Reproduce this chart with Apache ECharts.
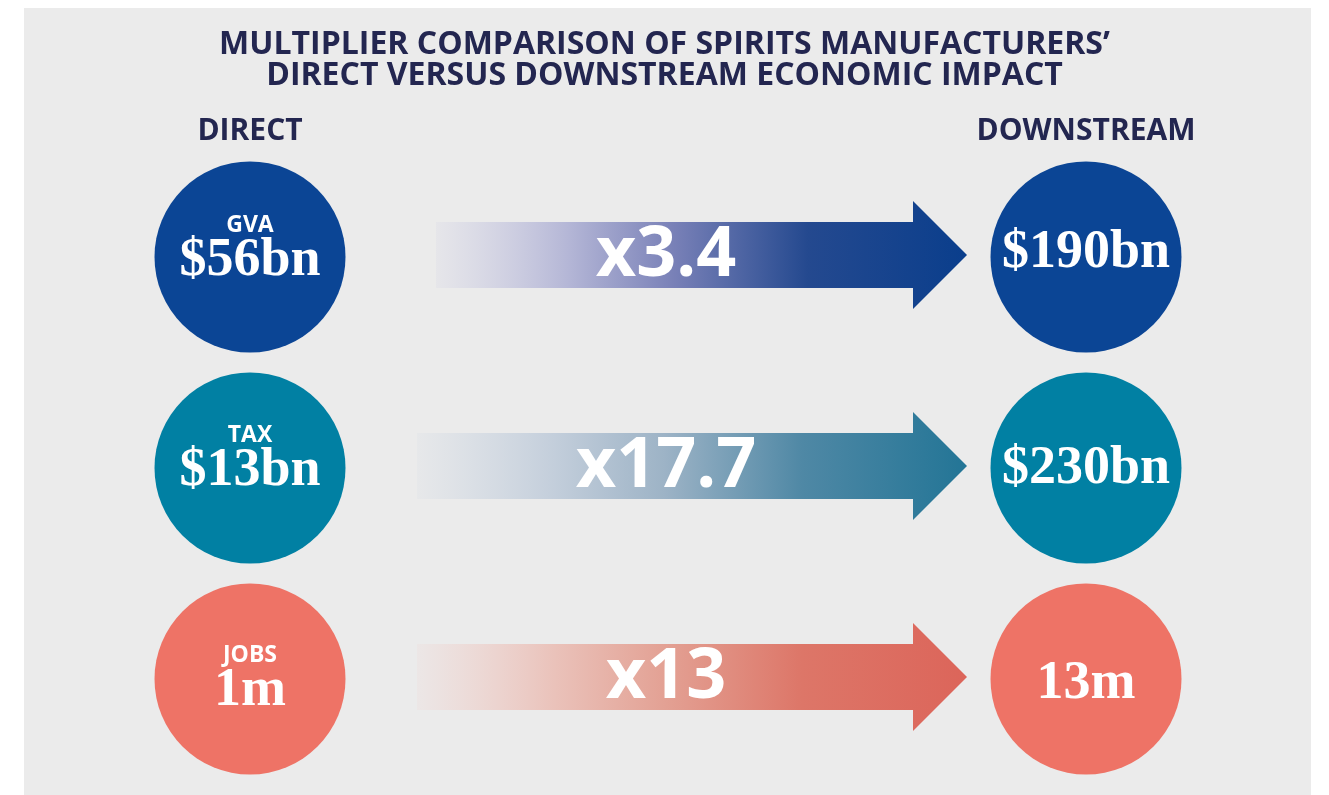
<!DOCTYPE html>
<html>
<head>
<meta charset="utf-8">
<script src="https://cdn.jsdelivr.net/npm/echarts@6/dist/echarts.min.js"></script>
<style>
  html, body { margin: 0; padding: 0; background: #fff; }
  #chart { width: 1329px; height: 795px; }
</style>
</head>
<body>
<div id="chart"></div>
<script>
// data
const rows = ["GVA", "TAX", "JOBS"];
const directLabels = ["$56bn", "$13bn", "1m"];
const downstreamLabels = ["$190bn", "$230bn", "13m"];
const multipliers = ["x3.4", "x17.7", "x13"];
const stages = ["DIRECT", "DOWNSTREAM"];

// styles
const navy = "#232650";
const rowColors = ["#0b4595", "#0180a3", "#ee7366"];
const arrowStops = [
  ["rgba(200,200,226,0.15)", "#b4b6d6", "#7880b7", "#24498f", "#0a3e8c"],
  ["rgba(205,214,226,0.15)", "#c3cedb", "#9db3c6", "#4f88a5", "#237596"],
  ["rgba(240,205,200,0.15)", "#eac2ba", "#e3a194", "#dd7668", "#dc655a"]
];
// small vertical nudges for the labels inside the circles
const directNudge = [-11, -12, -3];
const downNudge = [-4, 1, 5];
const serif = "'Liberation Serif', 'DejaVu Serif', serif";
const sans = "'Open Sans', 'Noto Sans', sans-serif";

const chart = echarts.init(document.getElementById("chart"));

function renderArrow(params, api) {
  const i = params.dataIndex;
  const p0 = api.coord([0, i]);
  const p1 = api.coord([1, i]);
  const cy = p0[1] - 2;
  const x0 = p0[0] + (i === 0 ? 186 : 167);  // tail
  const xb = p1[0] - 173;     // head base
  const xt = p1[0] - 119;     // tip
  const hb = 33, hh = 54;
  const s = arrowStops[i];
  return {
    type: "group",
    children: [
      {
        type: "polygon",
        shape: {
          points: [
            [x0, cy - hb], [xb, cy - hb], [xb, cy - hh], [xt, cy],
            [xb, cy + hh], [xb, cy + hb], [x0, cy + hb]
          ]
        },
        style: {
          fill: new echarts.graphic.LinearGradient(0, 0, 1, 0, [
            { offset: 0, color: s[0] },
            { offset: 0.25, color: s[1] },
            { offset: 0.45, color: s[2] },
            { offset: 0.7, color: s[3] },
            { offset: 1, color: s[4] }
          ])
        }
      },
      {
        type: "text",
        style: {
          text: api.value(2),
          x: 666,
          y: cy + 1,
          align: "center",
          verticalAlign: "middle",
          fill: "#fff",
          font: "bold 70px " + sans
        }
      }
    ]
  };
}

const option = {
  backgroundColor: "#fff",
  animation: false,
  graphic: [
    {
      type: "rect",
      z: -10,
      silent: true,
      shape: { x: 24, y: 8, width: 1287, height: 787 },
      style: { fill: "#ebebeb" }
    }
  ],
  title: {
    text: "MULTIPLIER COMPARISON OF SPIRITS MANUFACTURERS’\nDIRECT VERSUS DOWNSTREAM ECONOMIC IMPACT",
    left: "center",
    top: 29,
    padding: 0,
    textStyle: {
      color: navy,
      fontFamily: sans,
      fontWeight: "bold",
      fontSize: 32,
      lineHeight: 31
    }
  },
  grid: { left: 250, right: 243, top: 151.5, bottom: 10.5 },
  xAxis: {
    type: "value",
    position: "top",
    min: 0,
    max: 1,
    interval: 1,
    axisLine: { show: false },
    axisTick: { show: false },
    splitLine: { show: false },
    axisLabel: {
      showMinLabel: true,
      showMaxLabel: true,
      margin: 5,
      formatter: v => stages[v] || "",
      color: navy,
      fontFamily: sans,
      fontWeight: "bold",
      fontSize: 30
    }
  },
  yAxis: {
    type: "category",
    inverse: true,
    data: rows,
    show: false
  },
  series: [
    {
      type: "custom",
      renderItem: renderArrow,
      data: rows.map((r, i) => [0.5, i, multipliers[i]]),
      z: 1
    },
    {
      type: "scatter",
      symbol: "circle",
      symbolSize: 191,
      z: 2,
      data: rows.map((r, i) => ({
        value: [0, r],
        itemStyle: { color: rowColors[i], opacity: 1 },
        label: {
          formatter: "{k|" + r + "}\n{v|" + directLabels[i] + "}",
          offset: [0, directNudge[i]]
        }
      })),
      label: {
        show: true,
        position: "inside",
        rich: {
          k: { color: "#fff", fontFamily: sans, fontWeight: "bold", fontSize: 23, lineHeight: 30 },
          v: { color: "#fff", fontFamily: serif, fontWeight: "bold", fontSize: 54, lineHeight: 42 }
        }
      }
    },
    {
      type: "scatter",
      symbol: "circle",
      symbolSize: 191,
      z: 2,
      data: rows.map((r, i) => ({
        value: [1, r],
        itemStyle: { color: rowColors[i], opacity: 1 },
        label: { formatter: downstreamLabels[i], offset: [0, downNudge[i]] }
      })),
      label: {
        show: true,
        position: "inside",
        color: "#fff",
        fontFamily: serif,
        fontWeight: "bold",
        fontSize: 54
      }
    }
  ]
};

chart.setOption(option);
</script>
</body>
</html>
